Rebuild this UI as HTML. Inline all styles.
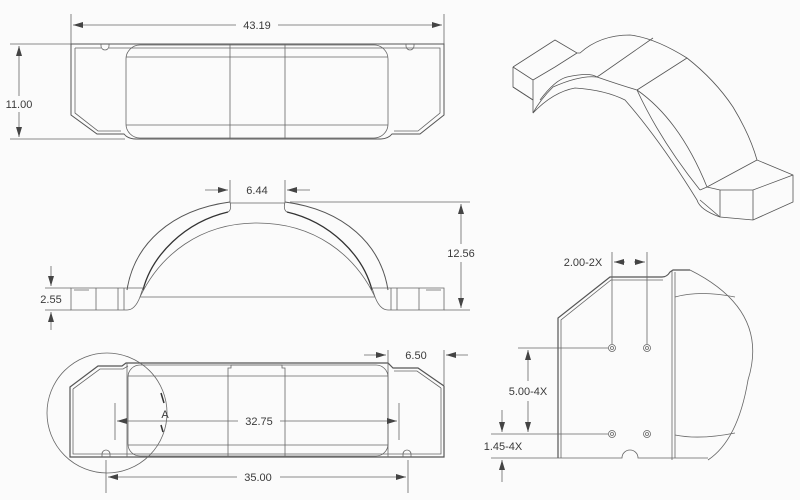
<!DOCTYPE html>
<html><head><meta charset="utf-8"><style>
html,body{margin:0;padding:0;background:#fbfbfb}
svg{display:block}
text{font-family:"Liberation Sans",sans-serif;font-size:11px;fill:#3a3a3a}
</style></head><body>
<svg width="800" height="500" viewBox="0 0 800 500" xmlns="http://www.w3.org/2000/svg">
<defs>
<marker id="a" viewBox="0 0 10 6" refX="10" refY="3" markerWidth="10" markerHeight="6" orient="auto-start-reverse" markerUnits="userSpaceOnUse"><path d="M0,0L10,3L0,6z" fill="#444"/></marker>
</defs>
<g fill="none" stroke="#666" stroke-width="0.8">
<!-- TOP VIEW -->
<line x1="71" y1="14" x2="71" y2="44"/><line x1="444" y1="14" x2="444" y2="44"/>
<line x1="73" y1="25" x2="236" y2="25" marker-start="url(#a)"/><line x1="278" y1="25" x2="442" y2="25" marker-end="url(#a)"/>
<line x1="10" y1="44" x2="71" y2="44"/><line x1="10" y1="139" x2="125" y2="139"/>
<line x1="19" y1="46" x2="19" y2="96" marker-start="url(#a)"/><line x1="19" y1="112" x2="19" y2="137" marker-end="url(#a)"/>
<path d="M71,44H444V115L420,134H392Q388,139 380,139H136Q128,139 124,134H97L71,115Z" stroke="#555" stroke-width="1"/>
<path d="M75,48H101M109,48H440V113L418,131H394M121,131H98L75,113V48"/>
<path d="M101,44v2a4,4 0 0 0 8,0v-2M406,44v2a4,4 0 0 0 8,0v-2"/>
<rect x="126" y="45" width="262" height="93" rx="14"/>
<line x1="126" y1="57" x2="388" y2="57"/><line x1="126" y1="125" x2="388" y2="125"/>
<line x1="230" y1="44" x2="230" y2="139"/><line x1="285" y1="44" x2="285" y2="139"/>
<!-- SIDE VIEW -->
<line x1="205" y1="190" x2="228" y2="190" marker-end="url(#a)"/><line x1="310" y1="190" x2="287" y2="190" marker-end="url(#a)"/>
<line x1="230" y1="180" x2="230" y2="202"/><line x1="285" y1="180" x2="285" y2="202"/>
<path d="M127,290C134,245 170,210 230,202M388,290C381,245 345,210 285,202" stroke="#555" stroke-width="1"/>
<path d="M143,290C152,255 185,222 228,212M372,290C363,255 330,222 287,212" stroke="#333" stroke-width="1.3"/>
<path d="M230,202Q232,210 228,212M285,202Q283,210 287,212M230,203H285"/>
<path d="M140,297C160,255 200,223 257,223C315,223 355,255 375,297"/>
<line x1="140" y1="297" x2="375" y2="297"/>
<path d="M71,288H143L140,297Q135,310 127,310H71ZM71,288V310M96,288V310M118,288V310M124,288V310"/>
<path d="M444,288H372L375,297Q380,310 388,310H444ZM419,288V310M397,288V310M391,288V310"/>
<path d="M74,290H89M426,290H441"/>
<line x1="290" y1="202" x2="470" y2="202"/><line x1="444" y1="310" x2="470" y2="310"/>
<line x1="461" y1="204" x2="461" y2="244" marker-start="url(#a)"/><line x1="461" y1="262" x2="461" y2="308" marker-end="url(#a)"/>
<line x1="45" y1="288" x2="71" y2="288"/><line x1="45" y1="310" x2="71" y2="310"/>
<line x1="51" y1="266" x2="51" y2="286" marker-end="url(#a)"/><line x1="51" y1="330" x2="51" y2="312" marker-end="url(#a)"/>
<!-- BOTTOM VIEW -->
<path d="M70,387L98,366H122L126,363H388L393,368H418L444,386V457H70Z" stroke="#555" stroke-width="1.2"/>
<path d="M73,389L100,369H123L128,366M441,388L417,371H394M73,389V454H441V388"/>
<path d="M102,457v-3a4,4 0 0 1 8,0v3M403,457v-3a4,4 0 0 1 8,0v3"/>
<line x1="127" y1="363" x2="127" y2="457"/><line x1="388" y1="363" x2="388" y2="457"/>
<rect x="128" y="365" width="260" height="91" rx="12"/>
<line x1="128" y1="376" x2="388" y2="376"/><line x1="128" y1="445" x2="388" y2="445"/>
<path d="M228,457V368h3v-3h51v3h3V457"/>
<circle cx="107" cy="413" r="60"/>
<line x1="115" y1="403" x2="115" y2="440"/><line x1="399" y1="403" x2="399" y2="440"/>
<line x1="117" y1="421" x2="238" y2="421" marker-start="url(#a)"/><line x1="280" y1="421" x2="397" y2="421" marker-end="url(#a)"/>
<line x1="106" y1="460" x2="106" y2="493"/><line x1="408" y1="460" x2="408" y2="493"/>
<line x1="108" y1="477" x2="237" y2="477" marker-start="url(#a)"/><line x1="280" y1="477" x2="406" y2="477" marker-end="url(#a)"/>
<line x1="388" y1="350" x2="388" y2="363"/><line x1="444" y1="350" x2="444" y2="385"/>
<line x1="364" y1="355" x2="386" y2="355" marker-end="url(#a)"/><line x1="468" y1="355" x2="446" y2="355" marker-end="url(#a)"/>
<path d="M161,393L164,403M163,432L161,425" stroke="#333" stroke-width="1.5"/>
<!-- DETAIL VIEW -->
<path d="M558,458V318L610,277H662Q667,277 670,272L673,270H690" stroke="#555" stroke-width="1.2"/>
<path d="M561,458V320L611,280H663"/>
<path d="M558,458H622a8,8 0 0 1 16,0H708"/>
<line x1="672" y1="270" x2="672" y2="460"/><line x1="675" y1="272" x2="675" y2="458"/>
<path d="M690,270Q770,310 748,380Q738,440 708,460"/>
<path d="M675,297Q700,290 735,297M675,435Q700,440 735,433"/>
<circle cx="612" cy="348" r="3.5"/><circle cx="612" cy="348" r="1.5"/>
<circle cx="647" cy="348" r="3.5"/><circle cx="647" cy="348" r="1.5"/>
<circle cx="612" cy="434" r="3.5"/><circle cx="612" cy="434" r="1.5"/>
<circle cx="647" cy="434" r="3.5"/><circle cx="647" cy="434" r="1.5"/>
<line x1="612" y1="252" x2="612" y2="344"/><line x1="647" y1="252" x2="647" y2="344"/>
<line x1="625" y1="262" x2="614" y2="262" marker-end="url(#a)"/><line x1="634" y1="262" x2="645" y2="262" marker-end="url(#a)"/>
<line x1="518" y1="348" x2="608" y2="348"/><line x1="491" y1="434" x2="608" y2="434"/><line x1="491" y1="458" x2="558" y2="458"/>
<line x1="528" y1="350" x2="528" y2="381" marker-start="url(#a)"/><line x1="528" y1="401" x2="528" y2="432" marker-end="url(#a)"/>
<line x1="502" y1="410" x2="502" y2="432" marker-end="url(#a)"/><line x1="502" y1="482" x2="502" y2="460" marker-end="url(#a)"/>
<!-- ISO VIEW -->
<g stroke="#555">
<path d="M513,67L555,40L577,53L580,53Q600,35 630,35Q655,38 687,58Q715,80 733,107Q750,135 757,160L793,175V202L753,220L720,217L700,200"/>
<path d="M513,67V87L533,100V113Q540,100 553,87Q580,75 597,77L600,75L653,38"/>
<path d="M513,67L533,80V100M533,80L555,67L577,53M513,87L533,100"/>
<path d="M540,100Q555,80 567,77Q590,72 597,77Q620,85 637,90Q660,140 700,190"/>
<path d="M533,113Q553,92 575,88Q605,90 625,100Q660,140 697,200Q700,210 720,217"/>
<path d="M637,90L687,58M707,187L757,160M700,190L707,187L720,190H753L793,175M720,190V217M753,190V220"/>
<path d="M637,90Q680,120 707,187"/>
</g>
</g>
<text x="257" y="29" text-anchor="middle">43.19</text>
<text x="19" y="108" text-anchor="middle">11.00</text>
<text x="257" y="194" text-anchor="middle">6.44</text>
<text x="461" y="257" text-anchor="middle">12.56</text>
<text x="51" y="303" text-anchor="middle">2.55</text>
<text x="259" y="425" text-anchor="middle">32.75</text>
<text x="258" y="481" text-anchor="middle">35.00</text>
<text x="416" y="359" text-anchor="middle">6.50</text>
<text x="165" y="418" text-anchor="middle">A</text>
<text x="583" y="266" text-anchor="middle">2.00-2X</text>
<text x="528" y="395" text-anchor="middle">5.00-4X</text>
<text x="503" y="450" text-anchor="middle">1.45-4X</text>
</svg>
</body></html>
